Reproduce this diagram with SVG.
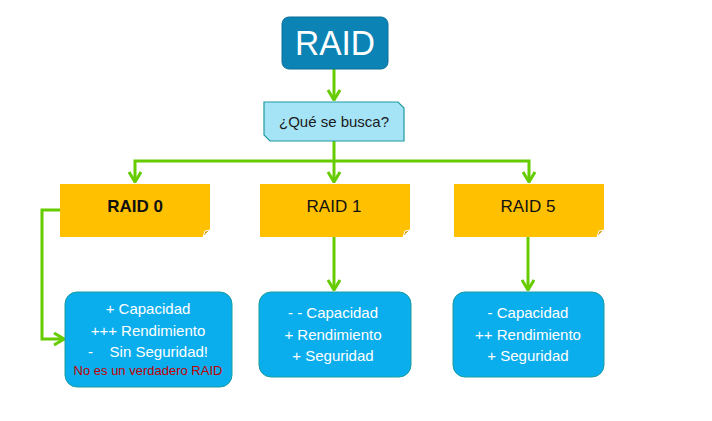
<svg xmlns="http://www.w3.org/2000/svg" width="712" height="421" viewBox="0 0 712 421">
<style>
text{font-family:"Liberation Sans","Open Sans",sans-serif;text-anchor:middle}
.ln{fill:none;stroke:#66CC00;stroke-width:3}
.or{fill:#FFC000}
.fold{fill:#D9A316;stroke:#fff;stroke-width:1}
.bl{fill:#0BAEED;stroke:#1B9C9E;stroke-width:1}
.wt{fill:#fff;font-size:15px}
.lab{font-size:17px;fill:#111}
</style>
<defs>
<marker id="ar" markerUnits="userSpaceOnUse" viewBox="0 0 12 14" refX="11" refY="7" markerWidth="12" markerHeight="14" orient="auto">
<path d="M1,1 L11,7 L1,13" fill="none" stroke="#66CC00" stroke-width="3"/>
</marker>
</defs>
<rect width="712" height="421" fill="#fff"/>
<g id="connectors">
<path class="ln" d="M334,69 V100" marker-end="url(#ar)"/>
<path class="ln" d="M334,141 V161 H135 V182" marker-end="url(#ar)"/>
<path class="ln" d="M334,161 V182" marker-end="url(#ar)"/>
<path class="ln" d="M334,161 H529 V182" marker-end="url(#ar)"/>
<path class="ln" d="M334,237 V290" marker-end="url(#ar)"/>
<path class="ln" d="M528,237 V290" marker-end="url(#ar)"/>
<path class="ln" d="M60,210 H42 V339 H64" marker-end="url(#ar)"/>
</g>
<g id="raid">
<rect x="282" y="17" width="106" height="52" rx="7" fill="#0B84B5" stroke="#0A6F99" stroke-width="1"/>
<text x="335" y="55" fill="#fff" font-size="35" textLength="80" lengthAdjust="spacingAndGlyphs">RAID</text>
</g>
<g id="busca">
<polygon points="264,102 398,102 404,108 404,141 270,141 264,135" fill="#A5E3F7" stroke="#1F9AA0" stroke-width="1.2"/>
<text x="334" y="127" font-size="15" fill="#1a1a1a">¿Qué se busca?</text>
</g>
<g id="raid0">
<polygon class="or" points="60,184 210,184 210,230 203,237 60,237"/>
<polygon class="fold" points="203,237 205,231 210,230"/>
<text class="lab" x="135" y="212" font-weight="bold">RAID 0</text>
</g>
<g id="raid1">
<polygon class="or" points="260,184 410,184 410,230 403,237 260,237"/>
<polygon class="fold" points="403,237 405,231 410,230"/>
<text class="lab" x="334" y="212">RAID 1</text>
</g>
<g id="raid5">
<polygon class="or" points="454,184 604,184 604,230 597,237 454,237"/>
<polygon class="fold" points="597,237 599,231 604,230"/>
<text class="lab" x="528" y="212">RAID 5</text>
</g>
<g id="desc0">
<rect class="bl" x="65" y="292" width="167" height="95" rx="12"/>
<text class="wt" x="148" y="314">+ Capacidad</text>
<text class="wt" x="148" y="336">+++ Rendimiento</text>
<text class="wt" x="148" y="357" xml:space="preserve">-    Sin Seguridad!</text>
<text x="148" y="375" font-size="13" fill="#C00000">No es un verdadero RAID</text>
</g>
<g id="desc1">
<rect class="bl" x="259" y="292" width="152" height="85" rx="12"/>
<text class="wt" x="333" y="318">- - Capacidad</text>
<text class="wt" x="333" y="340">+ Rendimiento</text>
<text class="wt" x="333" y="361">+ Seguridad</text>
</g>
<g id="desc5">
<rect class="bl" x="453" y="292" width="151" height="85" rx="12"/>
<text class="wt" x="528" y="318">- Capacidad</text>
<text class="wt" x="528" y="340">++ Rendimiento</text>
<text class="wt" x="528" y="361">+ Seguridad</text>
</g>
</svg>
